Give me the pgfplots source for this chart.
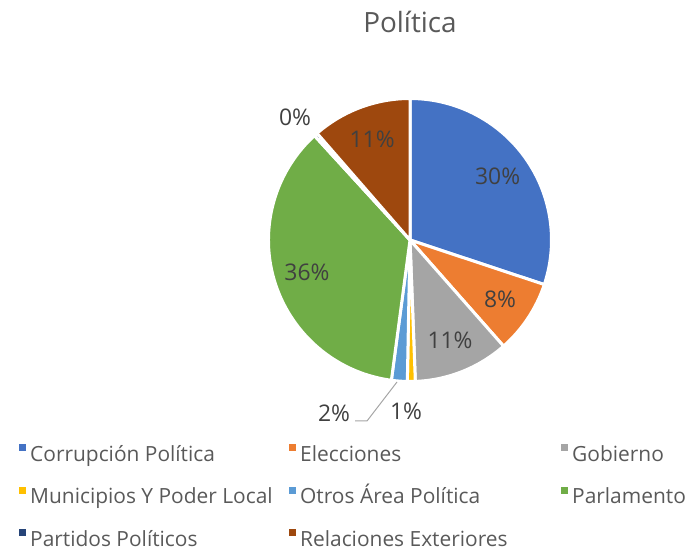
\documentclass[border=0pt]{standalone}
\usepackage{fontspec}
\setmainfont{Open Sans}
\usepackage{pgfplots}
\usepackage{pgfplotstable}
\pgfplotsset{compat=1.18}

\definecolor{sc0}{HTML}{4472C4}
\definecolor{sc1}{HTML}{ED7D31}
\definecolor{sc2}{HTML}{A5A5A5}
\definecolor{sc3}{HTML}{FFC000}
\definecolor{sc4}{HTML}{5B9BD5}
\definecolor{sc5}{HTML}{70AD47}
\definecolor{sc6}{HTML}{264478}
\definecolor{sc7}{HTML}{9E480E}
\definecolor{textgray}{HTML}{595959}
\definecolor{labelgray}{HTML}{404040}

% share of each topic, in percent (clockwise from 12 o'clock)
\pgfplotstableread{
idx value
0 30.1
1 8.4
2 10.9
3 0.9
4 1.8
5 36.1
6 0.4
7 11.4
}\piedata

\begin{document}
\begin{tikzpicture}
\useasboundingbox (0,0) rectangle (686bp,553bp);

% start, end and middle angle of every slice
\def\total{0}
\pgfplotsforeachungrouped \i in {0,...,7}{%
  \pgfplotstablegetelem{\i}{value}\of\piedata
  \pgfmathsetmacro{\total}{\total+\pgfplotsretval}%
}
\def\cum{0}
\pgfplotsforeachungrouped \i in {0,...,7}{%
  \pgfplotstablegetelem{\i}{value}\of\piedata
  \let\v\pgfplotsretval
  \pgfmathsetmacro{\sa}{90-(\cum/\total)*360}%
  \pgfmathsetmacro{\cum}{\cum+\v}%
  \pgfmathsetmacro{\ea}{90-(\cum/\total)*360}%
  \pgfmathsetmacro{\ma}{(\sa+\ea)/2}%
  \pgfmathtruncatemacro{\lb}{round((\v/\total)*100)}%
  \expandafter\xdef\csname sa\i\endcsname{\sa}%
  \expandafter\xdef\csname ea\i\endcsname{\ea}%
  \expandafter\xdef\csname ma\i\endcsname{\ma}%
  \expandafter\xdef\csname lb\i\endcsname{\lb}%
}

\begin{axis}[
    hide axis,
    scale only axis,
    x=1bp, y=1bp,
    xmin=0, xmax=686,
    ymin=0, ymax=553,
    clip=false,
    legend columns=3,
    legend cell align=left,
    legend image code/.code={\fill[#1, draw=none] (0bp,5bp) rectangle (7bp,12bp);},
    legend style={
        draw=none, fill=none,
        at={(axis description cs:0.02332,0.20072)},
        anchor=north west,
        font=\fontsize{21}{25}\selectfont,
        text=textgray,
        nodes={inner sep=0pt, text height=15bp, text depth=5bp},
        row sep=20.5bp,
        /tikz/every odd column/.style={column sep=4bp},
        /tikz/every even column/.style={column sep=0bp},
    },
]

\pgfplotsinvokeforeach{0,...,7}{
  \fill[fill=sc#1, draw=white, line width=3bp, line join=round]
    (axis cs:410,313) -- ++(\csname sa#1\endcsname:141.5bp)
    arc[start angle=\csname sa#1\endcsname, end angle=\csname ea#1\endcsname, radius=141.5bp]
    -- cycle;
}

\pgfplotsinvokeforeach{0,1,2,5,7}{
  \path (axis cs:410,313) ++(\csname ma#1\endcsname:108bp)
    node[text=labelgray, font=\fontsize{23}{27}\selectfont] {\csname lb#1\endcsname\%};
}

\node[text=labelgray, font=\fontsize{23}{27}\selectfont] at (axis cs:295,436) {\csname lb6\endcsname\%};
\node[text=labelgray, font=\fontsize{23}{27}\selectfont] at (axis cs:334,140) {\csname lb4\endcsname\%};
\node[text=labelgray, font=\fontsize{23}{27}\selectfont] at (axis cs:406,142) {\csname lb3\endcsname\%};
\draw[color=sc2, line width=1bp] (axis cs:397,171) -- (axis cs:367,132) -- (axis cs:355,132);

\node[text=textgray, font=\fontsize{28}{33}\selectfont] at (axis cs:410,531) {Política};

\addlegendimage{fill=sc0}\addlegendentry{\makebox[259bp][l]{Corrupción Política}}
\addlegendimage{fill=sc1}\addlegendentry{\makebox[261bp][l]{Elecciones}}
\addlegendimage{fill=sc2}\addlegendentry{Gobierno}
\addlegendimage{fill=sc3}\addlegendentry{\makebox[259bp][l]{Municipios Y Poder Local}}
\addlegendimage{fill=sc4}\addlegendentry{\makebox[261bp][l]{Otros Área Política}}
\addlegendimage{fill=sc5}\addlegendentry{Parlamento}
\addlegendimage{fill=sc6}\addlegendentry{\makebox[259bp][l]{Partidos Políticos}}
\addlegendimage{fill=sc7}\addlegendentry{\makebox[261bp][l]{Relaciones Exteriores}}

\end{axis}
\end{tikzpicture}
\end{document}
